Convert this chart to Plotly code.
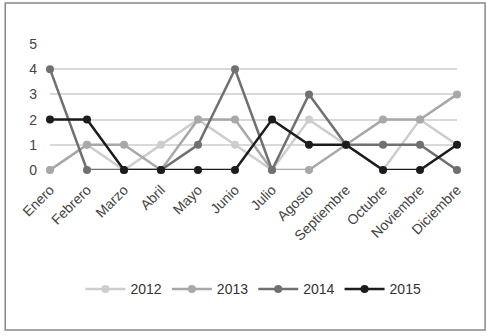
import plotly.graph_objects as go

months = ["Enero", "Febrero", "Marzo", "Abril", "Mayo", "Junio", "Julio",
          "Agosto", "Septiembre", "Octubre", "Noviembre", "Diciembre"]
v2012 = [0, 1, 0, 1, 2, 1, 0, 2, 1, 0, 2, 1]
v2013 = [0, 1, 1, 0, 2, 2, 0, 0, 1, 2, 2, 3]
v2014 = [4, 0, 0, 0, 1, 4, 0, 3, 1, 1, 1, 0]
v2015 = [2, 2, 0, 0, 0, 0, 2, 1, 1, 0, 0, 1]
years = ["2012", "2013", "2014", "2015"]
colors = ["#cdcdcd", "#a8a8a8", "#707070", "#1c1c1c"]
series = [v2012, v2013, v2014, v2015]

fig = go.Figure()
for name, vals, col in zip(years, series, colors):
    fig.add_trace(go.Scatter(
        x=months, y=vals, name=name, mode="lines+markers",
        line=dict(color=col, width=2.5),
        marker=dict(color=col, size=8),
        cliponaxis=False,
    ))

fig.update_layout(
    width=491, height=336,
    margin=dict(l=50, r=34, t=44, b=166, autoexpand=False),
    paper_bgcolor="white", plot_bgcolor="white",
    font=dict(family="Liberation Sans, Arial, sans-serif", size=14, color="#444"),
    showlegend=True,
    legend=dict(orientation="h", x=0.5, xanchor="center", y=-0.82, yanchor="top",
                font=dict(size=14, color="#333"), itemwidth=40,
                traceorder="normal"),
    xaxis=dict(showgrid=False, showline=False, zeroline=False, tickangle=-45,
               range=[0, 11], ticks="", automargin=False, ticklabelstandoff=8,
               tickfont=dict(size=14, color="#444")),
    yaxis=dict(range=[0, 5], dtick=1, showgrid=True, gridcolor="#d9d9d9",
               gridwidth=1.5, zeroline=False, showline=False, ticks="",
               automargin=False, ticklabelstandoff=12,
               tickfont=dict(size=14, color="#444")),
    shapes=[dict(type="rect", xref="paper", yref="paper",
                 x0=-0.11, x1=1.069, y0=-1.27, y1=1.325,
                 line=dict(color="#888", width=1.5))],
)
fig.write_html("out.html",
               config={"displayModeBar": False},
               post_script="document.body.style.margin='0';document.body.style.overflow='hidden';")
